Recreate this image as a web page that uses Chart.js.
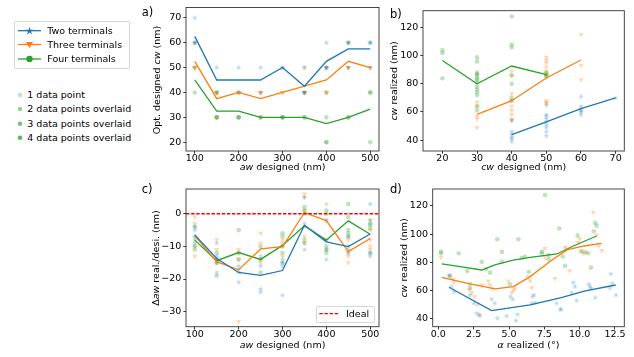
<!DOCTYPE html>
<html>
<head>
<meta charset="utf-8">
<script src="https://cdn.jsdelivr.net/npm/chart.js@4.4.1/dist/chart.umd.min.js"></script>
<style>
    body { margin: 0; width: 634px; height: 357px; background: #fff; position: relative; overflow: hidden;
           font-family: "DejaVu Sans", sans-serif; color: #000; }
    canvas { position: absolute; }
    .txt { position: absolute; font-size: 9.5px; line-height: 1; white-space: nowrap; z-index: 5; }
    .ctr { transform: translate(-50%, -50%); }
    .rot { transform: translate(-50%, -50%) rotate(-90deg); }
    .panel { position: absolute; font-size: 11.5px; line-height: 1; z-index: 5; }
    .legend { position: absolute; border: 1px solid #d6d6d6; border-radius: 2px; background: rgba(255,255,255,0.8); z-index: 6; }
    .legend svg { position: absolute; }
    .legend span, .dots span { position: absolute; font-size: 9.5px; line-height: 1; white-space: nowrap; transform: translateY(-50%); }
    .dots { position: absolute; z-index: 6; }
</style>
</head>
<body>
<canvas id="chartA"></canvas>
<canvas id="chartB"></canvas>
<canvas id="chartC"></canvas>
<canvas id="chartD"></canvas>

<div class="panel" style="left:141.7px;top:7.3px">a)</div>
<div class="panel" style="left:390px;top:9px">b)</div>
<div class="panel" style="left:141.7px;top:184px">c)</div>
<div class="panel" style="left:390px;top:184px">d)</div>

<div class="txt rot" style="left:156.5px;top:80px">Opt. designed <i>cw</i> (nm)</div>
<div class="txt ctr" style="left:282.5px;top:166.5px"><i>aw</i> designed (nm)</div>
<div class="txt rot" style="left:394px;top:81px"><i>cw</i> realized (nm)</div>
<div class="txt ctr" style="left:523.7px;top:166.5px"><i>cw</i> designed (nm)</div>
<div class="txt rot" style="left:155.5px;top:258px">Δ<i>aw</i> real./desi. (nm)</div>
<div class="txt ctr" style="left:282.5px;top:344.5px"><i>aw</i> designed (nm)</div>
<div class="txt rot" style="left:404px;top:258px"><i>cw</i> realized (nm)</div>
<div class="txt ctr" style="left:528.5px;top:344.5px"><i>α</i> realized (°)</div>

<div class="legend" style="left:14px;top:21px;width:114px;height:46px">
    <svg style="left:2px;top:2px" width="26" height="44">
        <line x1="1" y1="6.7" x2="24" y2="6.7" stroke="#1f77b4" stroke-width="1.3"/>
        <polygon transform="translate(12.5,7)" fill="#1f77b4"
                 points="0,-4.2 0.95,-1.3 4,-1.3 1.53,0.5 2.47,3.4 0,1.6 -2.47,3.4 -1.53,0.5 -4,-1.3 -0.95,-1.3"/>
        <line x1="1" y1="20.5" x2="24" y2="20.5" stroke="#ff7f0e" stroke-width="1.3"/>
        <polygon transform="translate(12.5,20.5)" fill="#ff7f0e" points="-3.6,-2.6 3.6,-2.6 0,3.6"/>
        <line x1="1" y1="35" x2="24" y2="35" stroke="#2ca02c" stroke-width="1.3"/>
        <circle cx="12.5" cy="35" r="3.2" fill="#2ca02c"/>
    </svg>
    <span style="left:32.3px;top:8.7px">Two terminals</span>
    <span style="left:32.3px;top:22.5px">Three terminals</span>
    <span style="left:32.3px;top:37px">Four terminals</span>
</div>

<div class="dots" style="left:0;top:0">
    <svg style="position:absolute;left:16px;top:90px" width="8" height="52">
        <circle cx="4" cy="5" r="2.2" fill="rgba(44,160,44,0.3)"/>
        <circle cx="4" cy="19" r="2.2" fill="rgba(44,160,44,0.51)"/>
        <circle cx="4" cy="33.7" r="2.2" fill="rgba(44,160,44,0.66)"/>
        <circle cx="4" cy="47.7" r="2.2" fill="rgba(44,160,44,0.76)"/>
    </svg>
    <span style="left:27.3px;top:95px">1 data point</span>
    <span style="left:27.3px;top:109px">2 data points overlaid</span>
    <span style="left:27.3px;top:123.7px">3 data points overlaid</span>
    <span style="left:27.3px;top:137.7px">4 data points overlaid</span>
</div>

<div class="legend" style="left:316px;top:305.7px;width:57px;height:15px">
    <svg style="left:1px;top:0" width="24" height="15">
        <line x1="1.3" y1="6.6" x2="21.3" y2="6.6" stroke="#ff0000" stroke-width="1.2" stroke-dasharray="3.5,1.6"/>
    </svg>
    <span style="left:29px;top:7px">Ideal</span>
</div>

<script>
// ---- data ----
const awDesigned = [100, 150, 200, 250, 300, 350, 400, 450, 500];

// a) optimal designed cw, mean per aw
const cwOptTwo = [62.5, 45, 45, 45, 50, 42.5, 52.5, 57.5, 57.5];
const cwOptThree = [52.5, 37.5, 40, 37.5, 40, 42.5, 45, 52.5, 50];
const cwOptFour = [45, 32.5, 32.5, 30, 30, 30, 27.5, 30, 33.3];
// a) individual designs per aw
const cwOptTwoPts = [[70, 60, 60, 60], [50, 40], [50, 40], [50, 40], [50, 50], [50, 40, 40, 40], [60, 50, 50, 50], [60, 60, 60, 50], [60, 60, 60, 50]];
const cwOptThreePts = [[60, 50, 50, 50], [40, 40, 40, 30], [40, 40], [40, 40, 40, 30], [40, 40], [50, 40, 40, 40], [50, 50, 40, 40], [60, 50, 50, 50], [50, 50]];
const cwOptFourPts = [[50, 40], [40, 30, 30, 30], [40, 30, 30, 30], [30, 30], [30, 30, 30], [30, 30], [40, 30, 20, 20], [30, 30], [40, 40, 20]];

// b) cw realized vs cw designed
const cwDesTwo = [40, 50, 60, 70];
const cwDesThree = [30, 40, 50, 60];
const cwDesFour = [20, 30, 40, 50];
const cwRealTwo = [43.8, 53, 62.3, 70];
const cwRealThree = [58.3, 68, 84.2, 97];
const cwRealFour = [96.7, 80, 92.7, 86.5];
const cwRealTwoPts = [[54, 46, 44, 42, 41, 39], [65, 58, 57, 55, 53, 51, 49, 46, 43], [71, 64, 62, 61, 60, 58], [70]];
const cwRealThreePts = [[67, 64, 57, 55, 49], [89, 86, 73, 68, 64, 61, 58, 55, 54], [99, 97, 95, 92, 89, 86, 68, 67, 66], [115, 93, 83]];
const cwRealFourPts = [[104, 102, 84], [99, 96, 88, 87, 86, 84, 83, 81, 78, 76, 74, 72, 64, 61], [128, 108, 106, 86, 80, 70, 68], [88, 87, 86, 85]];

// c) aw deviation realized - designed
const dAwTwo = [-6.5, -13.7, -18, -18.9, -17.4, -3.5, -8.6, -10.1, -6.2];
const dAwThree = [-6.8, -14.7, -17.2, -10.8, -10.1, 0.3, -2.1, -11.6, -7.6];
const dAwFour = [-8.1, -14.4, -11.9, -14, -9.7, -3.7, -8.1, -2.2, -6.3];
const dAwTwoPts = [[-4, -5, -8, -9], [-9, -13, -18, -15], [-16, -17, -21, -18], [-13, -16, -23, -24], [-14, -25, -15, -16], [5, -3, -4, -11], [-2, -8, -14, -11], [-7, -10, -12, -11], [3, -2, -12, -13]];
const dAwThreePts = [[-1, -3, -10, -13], [-8, -11, -14, -15], [-11, -12, -14, -33], [-6, -9, -14, -15], [-8, -9, -10, -13], [6, 5, 1, -7, -9], [3, -2, -8], [-8, -12, -13, -15], [-2, -5, -8, -10, -11]];
const dAwFourPts = [[-4, -7, -10, -11], [-12, -14, -15, -19], [-5, -12, -14], [-10, -14, -18], [-6, -7, -10, -12, -15], [2, 1, 0, -8, -9], [1, 0, -10, -11, -12], [3, -1, -5, -6, -7], [-3, -3.5, -4.5, -12]];
const idealDelta = 0;

// d) cw realized vs realized angle alpha
const alphaTwo = [0.75, 0.94, 1.1, 2.24, 2.52, 2.71, 2.88, 2.95, 3.77, 4.0, 4.17, 4.83, 5.1, 5.26, 5.5, 5.6, 6.65, 6.77, 6.6, 6.84, 8.37, 8.68, 8.63, 9.43, 9.55, 9.67, 9.79, 10.64, 10.73, 10.8, 11.1, 12.14, 12.3, 12.2, 12.57];
const cwAlphaTwo = [70.4, 62.6, 59, 56.6, 50.7, 43.6, 42.4, 42, 53.6, 50.7, 40, 41.6, 55.5, 53.6, 38.3, 42.8, 55.5, 56.6, 50.7, 51.1, 50.7, 46.4, 46.4, 58.3, 65.5, 62.6, 52.6, 64.4, 62.6, 61.4, 54.7, 61.4, 64.9, 71.6, 56.6];
const alphaThree = [0.19, 0.83, 1.06, 1.1, 2.2, 2.36, 2.55, 2.78, 3.1, 3.54, 3.66, 3.77, 4.95, 5.2, 5.3, 5.42, 6.37, 6.5, 6.6, 7.55, 7.55, 8.25, 8.96, 9.08, 9.3, 9.9, 10.0, 10.17, 10.3, 10.97, 11.2, 11.35, 11.56];
const cwAlphaThree = [83.4, 69.7, 67.8, 65.5, 60.7, 58.3, 55.4, 49.7, 63.7, 66.6, 63.7, 61.4, 66.6, 58.3, 60.2, 61.4, 69.7, 66.6, 62, 89.8, 83.2, 68.3, 90.5, 89.3, 73.9, 93.9, 96.7, 88, 86.3, 115.5, 99.3, 91.5, 88.2];
const alphaFour = [0.19, 0.19, 0.83, 1.44, 2.05, 2.24, 2.24, 3.07, 3.37, 3.66, 4.17, 4.5, 4.5, 5.07, 5.66, 5.9, 6.13, 6.4, 7.33, 7.33, 7.55, 7.8, 7.8, 8.56, 8.8, 8.96, 9.86, 10.1, 10.4, 10.6, 10.8, 11.1, 11.2, 11.0];
const cwAlphaFour = [87.5, 86.3, 70.4, 86.3, 73.7, 64.2, 61.4, 80.2, 75, 72.5, 96.3, 87.3, 80.4, 64.2, 96.3, 83, 83.8, 73.2, 87.5, 86.3, 127.8, 85, 82, 104, 84, 77.3, 98.9, 87.5, 87, 86.3, 76.1, 108, 106, 102];
// d) trend curves
const trendAlphaTwo = [0.75, 3.77, 6.5, 8.7, 10.4, 12.55];
const trendCwTwo = [62.1, 45.5, 49.5, 54.7, 59.5, 63.7];
const trendAlphaThree = [0.24, 2.0, 4.0, 5.3, 6.5, 7.9, 9.1, 10.3, 11.55];
const trendCwThree = [69.2, 65, 61, 62.6, 69.7, 80.4, 88.7, 91.5, 93.4];
const trendAlphaFour = [0.24, 1.77, 3.07, 4.0, 5.3, 6.5, 8.4, 9.55, 11.2];
const trendCwFour = [78.7, 76.4, 74.4, 78, 81.5, 83.4, 85.8, 91.5, 98.6];

// ticks and axis limits
const awTicks = [100, 200, 300, 400, 500];
const awRange = [80, 520];
const cwOptTicks = [20, 30, 40, 50, 60, 70];
const cwDesTicks = [20, 30, 40, 50, 60, 70];
const cwRealTicks = [40, 60, 80, 100, 120];
const dAwTicks = [-30, -20, -10, 0];
const alphaTicks = [0, 2.5, 5, 7.5, 10, 12.5];

// ---- styles ----
const BLUE = '#1f77b4', ORANGE = '#ff7f0e', GREEN = '#2ca02c';
const POINT_ALPHA = 0.3;

Chart.defaults.font.family = "'DejaVu Sans', sans-serif";
Chart.defaults.font.size = 9.5;
Chart.defaults.color = '#000';

function rgba(hex, a) {
    const n = parseInt(hex.slice(1), 16);
    return `rgba(${n >> 16},${(n >> 8) & 255},${n & 255},${a})`;
}

// matplotlib style filled 5 point star
function starImage(color, r) {
    const c = document.createElement('canvas');
    c.width = c.height = Math.ceil(r * 2 + 2);
    const ctx = c.getContext('2d');
    ctx.translate(c.width / 2, c.height / 2);
    ctx.beginPath();
    for (let i = 0; i < 10; i++) {
        const rad = i % 2 ? r * 0.382 : r;
        const a = -Math.PI / 2 + i * Math.PI / 5;
        ctx.lineTo(rad * Math.cos(a), rad * Math.sin(a));
    }
    ctx.closePath();
    ctx.fillStyle = color;
    ctx.fill();
    return c;
}

const series = {
    two: { color: BLUE, style: starImage(rgba(BLUE, POINT_ALPHA), 3), rotation: 0, radius: 3 },
    three: { color: ORANGE, style: 'triangle', rotation: 180, radius: 3 },
    four: { color: GREEN, style: 'circle', rotation: 0, radius: 2.3 }
};

function grouped(xs, groups) {
    const pts = [];
    xs.forEach((x, i) => groups[i].forEach(y => pts.push({ x, y })));
    return pts;
}
function paired(xs, ys) {
    return xs.map((x, i) => ({ x, y: ys[i] }));
}
function pointSet(data, s) {
    return {
        data, showLine: false,
        pointStyle: s.style, pointRotation: s.rotation, pointRadius: s.radius,
        pointBackgroundColor: rgba(s.color, POINT_ALPHA), pointBorderWidth: 0, pointBorderColor: 'rgba(0,0,0,0)'
    };
}
function lineSet(data, color, dash) {
    return {
        data, showLine: true, borderColor: color, borderWidth: dash ? 1.4 : 1.3,
        borderDash: dash || [], pointRadius: 0, fill: false, tension: 0
    };
}

// full box around plot area, like matplotlib spines
const framePlugin = {
    id: 'frame',
    afterDraw(chart) {
        const { ctx, chartArea: a } = chart;
        ctx.save();
        ctx.strokeStyle = '#333';
        ctx.lineWidth = 0.9;
        ctx.strokeRect(a.left, a.top, a.right - a.left, a.bottom - a.top);
        ctx.restore();
    }
};

const minusFormat = v => String(v).replace('-', '\u2212');

function axis(range, ticks, fit, format, pad) {
    return {
        type: 'linear', min: range[0], max: range[1],
        afterBuildTicks: s => { s.ticks = ticks.map(value => ({ value })); },
        afterFit: fit,
        grid: { display: true, drawOnChartArea: false, drawTicks: true, tickLength: 2.7, color: '#000', lineWidth: 0.8 },
        border: { display: false },
        ticks: { color: '#000', padding: pad, maxRotation: 0, autoSkip: false, callback: format || minusFormat }
    };
}

// area = plot rectangle on the page
function makePanel(id, area, xAxis, yAxis, datasets) {
    const canvas = document.getElementById(id);
    const left = Math.floor(area.left - 40), top = Math.floor(area.top - 8);
    const width = Math.ceil(area.right + 15) - left, height = Math.ceil(area.bottom + 24) - top;
    canvas.width = width;
    canvas.height = height;
    Object.assign(canvas.style, { left: left + 'px', top: top + 'px', width: width + 'px', height: height + 'px' });
    const yWidth = area.left - left, xHeight = top + height - area.bottom;

    return new Chart(canvas, {
        type: 'scatter',
        data: { datasets },
        options: {
            responsive: false,
            animation: false,
            devicePixelRatio: 1,
            events: [],
            layout: { padding: { left: 0, bottom: 0, top: area.top - top, right: left + width - area.right } },
            plugins: { legend: { display: false }, tooltip: { enabled: false } },
            scales: {
                x: axis(xAxis.range, xAxis.ticks, s => { s.height = xHeight; }, xAxis.format, -0.5),
                y: axis(yAxis.range, yAxis.ticks, s => { s.width = yWidth; }, yAxis.format, 2)
            }
        },
        plugins: [framePlugin]
    });
}

// a)
makePanel('chartA', { left: 186, top: 7.5, right: 379, bottom: 151 },
    { range: awRange, ticks: awTicks }, { range: [16.5, 74.1], ticks: cwOptTicks }, [
        lineSet(paired(awDesigned, cwOptTwo), BLUE),
        lineSet(paired(awDesigned, cwOptThree), ORANGE),
        lineSet(paired(awDesigned, cwOptFour), GREEN),
        pointSet(grouped(awDesigned, cwOptTwoPts), series.two),
        pointSet(grouped(awDesigned, cwOptThreePts), series.three),
        pointSet(grouped(awDesigned, cwOptFourPts), series.four)
    ]);

// b)
makePanel('chartB', { left: 423, top: 10.7, right: 624.3, bottom: 151 },
    { range: [14.4, 72.5], ticks: cwDesTicks }, { range: [32.2, 132.1], ticks: cwRealTicks }, [
        lineSet(paired(cwDesTwo, cwRealTwo), BLUE),
        lineSet(paired(cwDesThree, cwRealThree), ORANGE),
        lineSet(paired(cwDesFour, cwRealFour), GREEN),
        pointSet(grouped(cwDesTwo, cwRealTwoPts), series.two),
        pointSet(grouped(cwDesThree, cwRealThreePts), series.three),
        pointSet(grouped(cwDesFour, cwRealFourPts), series.four)
    ]);

// c)
makePanel('chartC', { left: 186, top: 189, right: 379, bottom: 326.7 },
    { range: awRange, ticks: awTicks }, { range: [-34.6, 7.56], ticks: dAwTicks }, [
        lineSet(awRange.map(x => ({ x, y: idealDelta })), '#ff0000', [3.5, 1.6]),
        lineSet(paired(awDesigned, dAwTwo), BLUE),
        lineSet(paired(awDesigned, dAwThree), ORANGE),
        lineSet(paired(awDesigned, dAwFour), GREEN),
        pointSet(grouped(awDesigned, dAwTwoPts), series.two),
        pointSet(grouped(awDesigned, dAwThreePts), series.three),
        pointSet(grouped(awDesigned, dAwFourPts), series.four)
    ]);

// d)
makePanel('chartD', { left: 432.7, top: 189, right: 624.3, bottom: 326.7 },
    { range: [-0.4, 13.16], ticks: alphaTicks, format: v => v.toFixed(1) }, { range: [34, 132.1], ticks: cwRealTicks }, [
        lineSet(paired(trendAlphaTwo, trendCwTwo), BLUE),
        lineSet(paired(trendAlphaThree, trendCwThree), ORANGE),
        lineSet(paired(trendAlphaFour, trendCwFour), GREEN),
        pointSet(paired(alphaTwo, cwAlphaTwo), series.two),
        pointSet(paired(alphaThree, cwAlphaThree), series.three),
        pointSet(paired(alphaFour, cwAlphaFour), series.four)
    ]);
</script>
</body>
</html>
